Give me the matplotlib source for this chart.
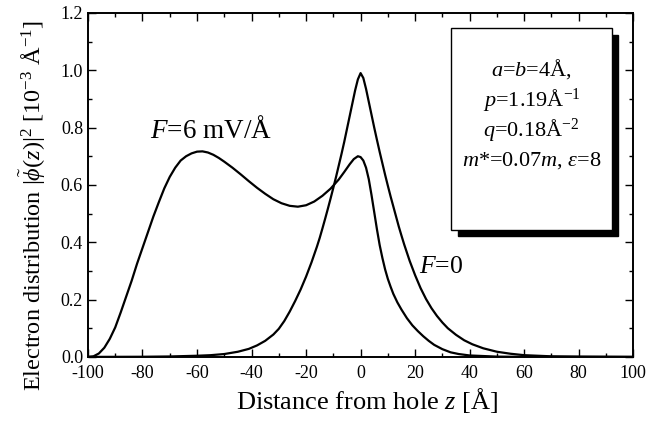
import numpy as np
import matplotlib
matplotlib.use("Agg")
import matplotlib.pyplot as plt
from matplotlib.patches import Rectangle
from matplotlib.ticker import MultipleLocator

plt.rcParams['font.family'] = ['Liberation Serif', 'DejaVu Serif']
plt.rcParams['mathtext.fontset'] = 'custom'
plt.rcParams['mathtext.rm'] = 'Liberation Serif'
plt.rcParams['mathtext.it'] = 'Liberation Serif:italic'
plt.rcParams['mathtext.bf'] = 'Liberation Serif:bold'
plt.rcParams['axes.unicode_minus'] = False

# distribution for F=0
z_f0 = [-100, -80, -70, -60, -55, -50, -45, -41, -38, -35, -32, -30, -28, -26,
        -24, -22, -20, -18, -16, -15, -14, -13, -12, -11, -10, -9, -8, -7, -6,
        -5, -4, -3, -2, -1, 0, 1, 2, 3, 4, 5, 6, 7, 8, 9, 10, 11, 12, 13, 14,
        15, 16, 18, 20, 22, 24, 26, 28, 30, 32, 35, 38, 41, 45, 50, 55, 60, 70,
        80, 100]
v_f0 = [0.0, 0.0005, 0.0015, 0.004, 0.006, 0.01, 0.018, 0.028, 0.04, 0.056,
        0.078, 0.098, 0.125, 0.158, 0.195, 0.235, 0.28, 0.33, 0.385, 0.415,
        0.448, 0.482, 0.517, 0.553, 0.59, 0.628, 0.668, 0.708, 0.75, 0.795,
        0.84, 0.885, 0.93, 0.968, 0.99, 0.973, 0.935, 0.89, 0.845, 0.80, 0.757,
        0.715, 0.675, 0.635, 0.597, 0.56, 0.525, 0.49, 0.455, 0.423, 0.392,
        0.335, 0.285, 0.24, 0.202, 0.17, 0.143, 0.12, 0.10, 0.077, 0.058,
        0.044, 0.03, 0.018, 0.011, 0.006, 0.002, 0.001, 0.0]

# distribution for F=6 mV/A
z_f6 = [-100, -98, -96, -94, -92, -90, -88, -86, -84, -82, -80, -78, -76, -74,
        -72, -70, -68, -66, -64, -62, -60, -58, -56, -54, -52, -50, -47, -44,
        -41, -38, -35, -32, -29, -26, -23, -20, -17, -14, -11, -8, -6, -4,
        -2.5, -1, 0, 1, 2, 3, 4, 5, 6, 7, 8, 9, 10, 11, 12, 13.5, 15, 17, 19,
        21, 23, 25, 27, 30, 33, 36, 40, 50, 60, 100]
v_f6 = [0.0, 0.002, 0.012, 0.032, 0.063, 0.103, 0.155, 0.21, 0.265, 0.325,
        0.38, 0.435, 0.49, 0.54, 0.588, 0.628, 0.66, 0.685, 0.70, 0.71, 0.716,
        0.717, 0.713, 0.705, 0.694, 0.681, 0.66, 0.637, 0.613, 0.59, 0.569,
        0.55, 0.536, 0.527, 0.524, 0.529, 0.542, 0.562, 0.587, 0.619, 0.645,
        0.672, 0.69, 0.70, 0.697, 0.685, 0.66, 0.62, 0.565, 0.505, 0.445, 0.39,
        0.345, 0.305, 0.272, 0.245, 0.22, 0.19, 0.165, 0.135, 0.11, 0.09,
        0.072, 0.056, 0.042, 0.027, 0.016, 0.01, 0.005, 0.001, 0.0, 0.0]

params = ["$a$=$b$=4Å,", "$p$=1.19Å$^{-1}$", "$q$=0.18Å$^{-2}$",
          "$m$*=0.07$m$, $\\varepsilon$=8"]

fig = plt.figure(figsize=(6.69, 4.30), dpi=100)
ax = fig.add_axes([0.1315, 0.170, 0.815, 0.800])

ax.plot(z_f0, v_f0, color='black', linewidth=1.6)
ax.plot(z_f6, v_f6, color='black', linewidth=1.6)

ax.set_xlim(-100, 100)
ax.set_ylim(0, 1.2)
ax.xaxis.set_major_locator(MultipleLocator(20))
ax.xaxis.set_minor_locator(MultipleLocator(10))
ax.yaxis.set_major_locator(MultipleLocator(0.2))
ax.yaxis.set_minor_locator(MultipleLocator(0.1))
ax.yaxis.set_major_formatter(plt.FuncFormatter(lambda v, p: f"{v:.1f}"))
ax.tick_params(which='both', direction='in', top=True, right=True,
               labelsize=13, width=1.0)
ax.tick_params(which='major', length=6)
ax.tick_params(which='minor', length=3)
ax.tick_params(axis='x', pad=6)
for s in ax.spines.values():
    s.set_linewidth(1.4)

ax.set_xlabel("Distance from hole $z$ [Å]", fontsize=19)
ax.xaxis.set_label_coords(0.512, -0.085)
ax.set_ylabel("Electron distribution $|\\tilde{\\phi}(z)|^2$ [10$^{-3}$ Å$^{-1}$]",
              fontsize=17.5)
ax.yaxis.set_label_coords(-0.074, 0.44)

ax.text(-54.8, 0.79, "$F$=6 mV/Å", fontsize=19.5, ha='center', va='center')
ax.text(29.5, 0.315, "$F$=0", fontsize=18.5, ha='center', va='center')

# parameter box with shadow
bx0, by0, bw, bh = 0.666, 0.370, 0.295, 0.585
ax.add_patch(Rectangle((bx0 + 0.012, by0 - 0.018), bw, bh, transform=ax.transAxes,
                       facecolor='black', edgecolor='black', zorder=3))
ax.add_patch(Rectangle((bx0, by0), bw, bh, transform=ax.transAxes,
                       facecolor='white', edgecolor='black', linewidth=1.0, zorder=4))
for i, t in enumerate(params):
    ax.text(bx0 + bw / 2, 0.837 - i * 0.089, t, transform=ax.transAxes,
            fontsize=16, ha='center', va='center', zorder=5)

fig.savefig("out.png", dpi=100)
